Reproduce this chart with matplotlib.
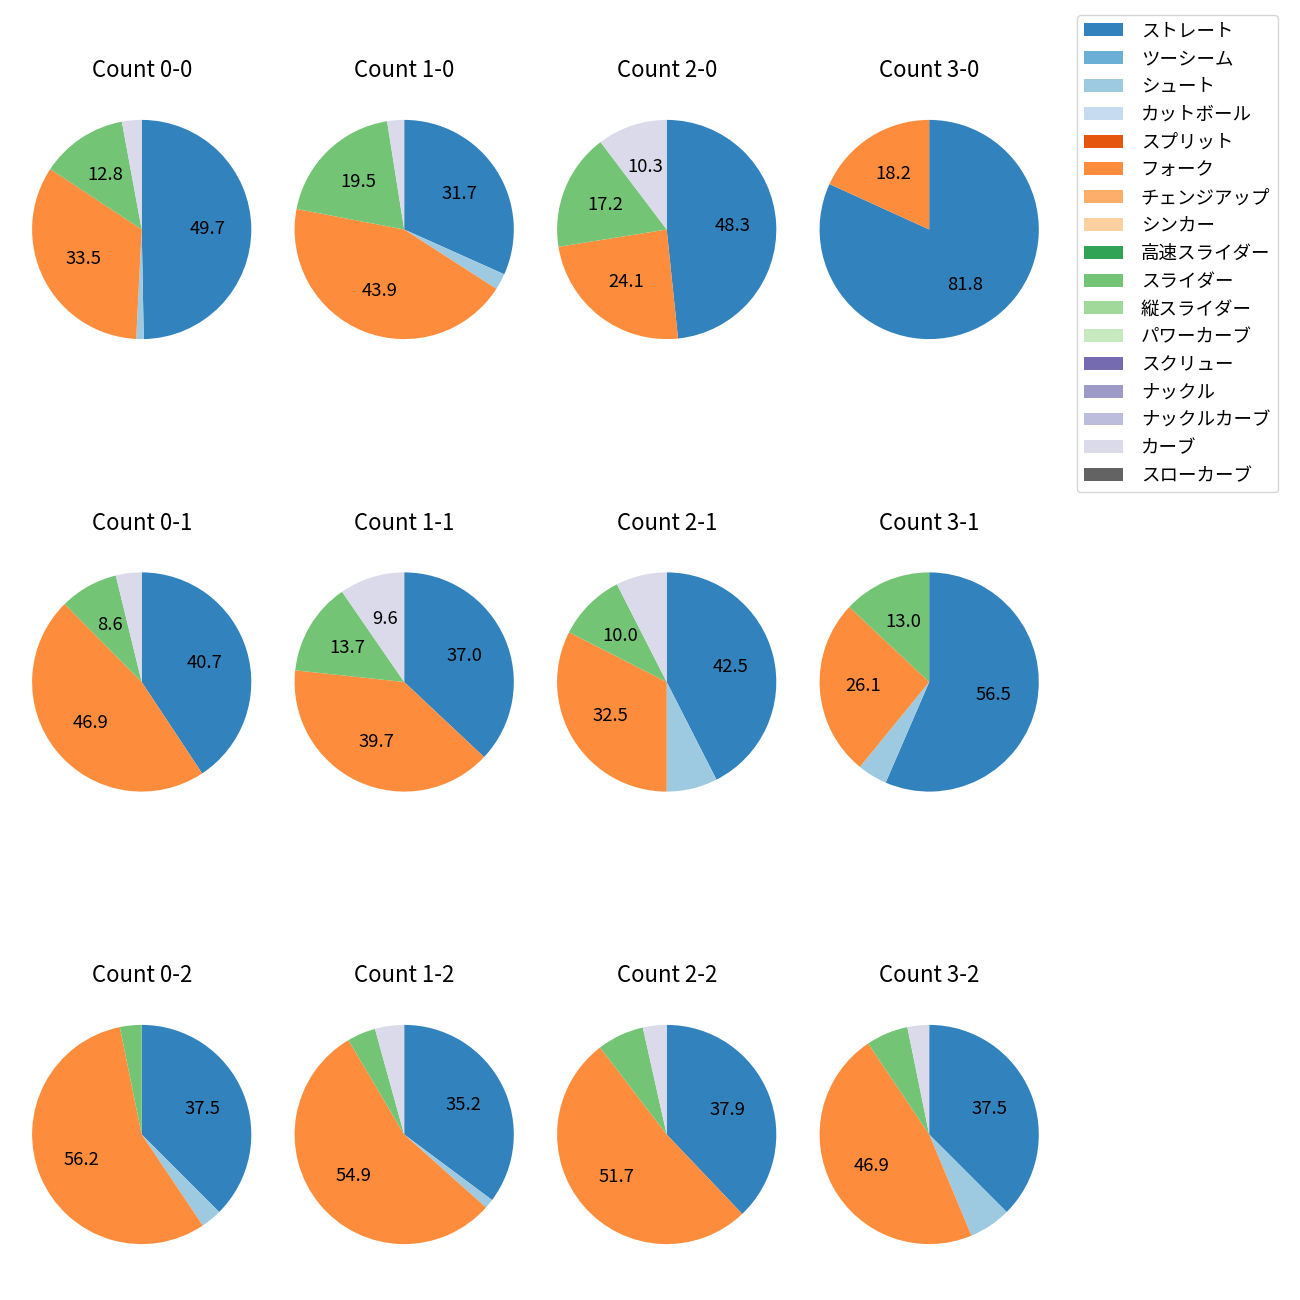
import matplotlib
matplotlib.use("Agg")
import matplotlib.pyplot as plt
from matplotlib.patches import Patch

plt.rcParams['font.family'] = ['Noto Sans CJK JP', 'DejaVu Sans']

pitch_types = ['ストレート', 'ツーシーム', 'シュート', 'カットボール', 'スプリット', 'フォーク',
               'チェンジアップ', 'シンカー', '高速スライダー', 'スライダー', '縦スライダー',
               'パワーカーブ', 'スクリュー', 'ナックル', 'ナックルカーブ', 'カーブ', 'スローカーブ']
colors = ['#3182bd', '#6baed6', '#9ecae1', '#c6dbef', '#e6550d', '#fd8d3c', '#fdae6b',
          '#fdd0a2', '#31a354', '#74c476', '#a1d99b', '#c7e9c0', '#756bb1', '#9e9ac8',
          '#bcbddc', '#dadaeb', '#636363']

# values in pitch_types order (percent)
c_0_0 = [49.7, 0, 1.1, 0, 0, 33.5, 0, 0, 0, 12.8, 0, 0, 0, 0, 0, 2.9, 0]
c_1_0 = [31.7, 0, 2.4, 0, 0, 43.9, 0, 0, 0, 19.5, 0, 0, 0, 0, 0, 2.5, 0]
c_2_0 = [48.3, 0, 0, 0, 0, 24.1, 0, 0, 0, 17.2, 0, 0, 0, 0, 0, 10.3, 0]
c_3_0 = [81.8, 0, 0, 0, 0, 18.2, 0, 0, 0, 0, 0, 0, 0, 0, 0, 0, 0]
c_0_1 = [40.7, 0, 0, 0, 0, 46.9, 0, 0, 0, 8.6, 0, 0, 0, 0, 0, 3.8, 0]
c_1_1 = [37.0, 0, 0, 0, 0, 39.7, 0, 0, 0, 13.7, 0, 0, 0, 0, 0, 9.6, 0]
c_2_1 = [42.5, 0, 7.5, 0, 0, 32.5, 0, 0, 0, 10.0, 0, 0, 0, 0, 0, 7.5, 0]
c_3_1 = [56.5, 0, 4.4, 0, 0, 26.1, 0, 0, 0, 13.0, 0, 0, 0, 0, 0, 0, 0]
c_0_2 = [37.5, 0, 3.1, 0, 0, 56.2, 0, 0, 0, 3.2, 0, 0, 0, 0, 0, 0, 0]
c_1_2 = [35.2, 0, 1.4, 0, 0, 54.9, 0, 0, 0, 4.2, 0, 0, 0, 0, 0, 4.3, 0]
c_2_2 = [37.9, 0, 0, 0, 0, 51.7, 0, 0, 0, 6.9, 0, 0, 0, 0, 0, 3.5, 0]
c_3_2 = [37.5, 0, 6.2, 0, 0, 46.9, 0, 0, 0, 6.2, 0, 0, 0, 0, 0, 3.2, 0]

counts = [
    [('0-0', c_0_0), ('1-0', c_1_0), ('2-0', c_2_0), ('3-0', c_3_0)],
    [('0-1', c_0_1), ('1-1', c_1_1), ('2-1', c_2_1), ('3-1', c_3_1)],
    [('0-2', c_0_2), ('1-2', c_1_2), ('2-2', c_2_2), ('3-2', c_3_2)],
]

W = H = 1300
fig = plt.figure(figsize=(13, 13), dpi=100)

cx = [141.7, 404.2, 666.7, 929.2]
cy = [229.5, 682.0, 1134.5]
side = 274.0

for r, row in enumerate(counts):
    for c, (label, vals) in enumerate(row):
        ax = fig.add_axes([(cx[c] - side / 2) / W, 1 - (cy[r] + side / 2) / H, side / W, side / H])
        v = [x for x in vals if x > 0]
        col = [colors[i] for i, x in enumerate(vals) if x > 0]
        ax.pie(v, colors=col, startangle=90, counterclock=False,
               autopct=lambda p: f'{p:.1f}' if p >= 8 else '',
               pctdistance=0.6, textprops={'fontsize': 13.3})
        ax.set_title(f'Count {label}', fontsize=16, pad=11)

handles = [Patch(facecolor=colors[i], label=pitch_types[i]) for i in range(len(pitch_types))]
fig.legend(handles=handles, loc='upper left', bbox_to_anchor=(1077 / W, 1 - 15 / H),
           borderaxespad=0, fontsize=13.3, handletextpad=0.95, handlelength=2.1,
           labelspacing=0.53)

fig.savefig('out.png', dpi=100)
